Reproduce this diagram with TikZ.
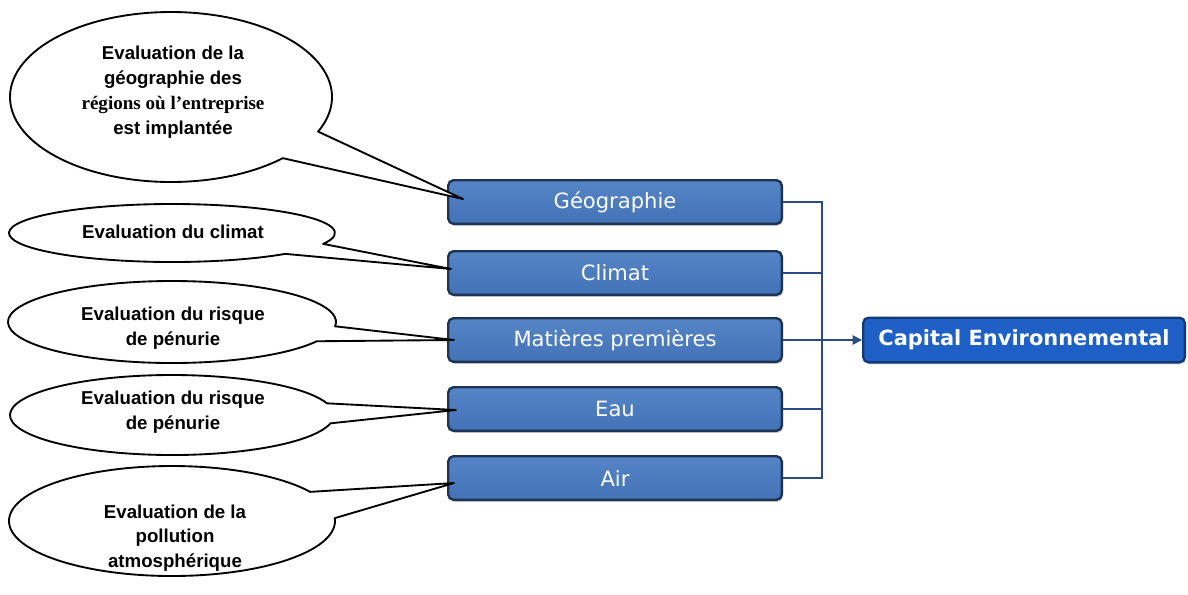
\documentclass[tikz,border=0pt]{standalone}
\usepackage{fontspec}
\setmainfont{Liberation Sans}
\newfontfamily\boxfont{DejaVu Sans}
\newfontfamily\serifb{Liberation Serif}
\usetikzlibrary{arrows.meta,shadows}
\definecolor{boxfill}{HTML}{4373B7}
\definecolor{boxtop}{HTML}{5585C6}
\definecolor{boxline}{HTML}{1C3354}
\definecolor{capfill}{HTML}{1E60C6}
\definecolor{capline}{HTML}{133A78}
\definecolor{busline}{HTML}{2B4C82}
\tikzset{
  x=0.75pt, y=-0.75pt,
  catbox/.style={draw=boxline, line width=1.8pt, rounded corners=4pt,
    top color=boxtop, bottom color=boxfill, minimum width=336*0.75pt-1.8pt,
    minimum height=46*0.75pt-1.8pt, text=white, font=\boxfont\fontsize{15.8}{18}\selectfont,
    drop shadow={shadow xshift=1pt, shadow yshift=-1.5pt, opacity=0.35}},
  capbox/.style={draw=capline, line width=1.8pt, rounded corners=4pt,
    fill=capfill, minimum width=324*0.75pt-1.8pt,
    minimum height=47*0.75pt-1.8pt, text=white, font=\boxfont\bfseries\fontsize{15.7}{18}\selectfont,
    drop shadow={shadow xshift=1pt, shadow yshift=-1.5pt, opacity=0.35}},
  callout/.style={draw=black, line width=1.4pt, fill=white, line join=round},
  calltext/.style={align=center, font=\bfseries\fontsize{14}{18.6}\selectfont, text=black},
  bus/.style={draw=busline, line width=1.1pt},
}
\begin{document}
\begin{tikzpicture}
\useasboundingbox (0,0) rectangle (1188,594);
% category boxes
\node[catbox] (geo) at (615,202) {Géographie};
\node[catbox] (cli) at (615,273) {Climat};
\node[catbox] (mat) at (615,340) {Matières premières};
\node[catbox] (eau) at (615,409) {Eau};
\node[catbox] (air) at (615,478) {Air};
\node[capbox] (cap) at (1024,340) {Capital Environnemental};
% bus
\coordinate (bt) at (822,202);
\coordinate (bb) at (822,478);
\coordinate (bm) at (822,340);
\draw[bus] (geo.east) -- (bt) -- (bb) -- (air.east);
\draw[bus] (cli.east) -- (cli.east -| bt);
\draw[bus] (mat.east) -- (bm);
\draw[bus] (eau.east) -- (eau.east -| bt);
\draw[bus, -{Triangle[length=7pt,width=7pt]}] (bm) -- (cap.west);
% callout tips
\coordinate (t1) at (463,199);
\coordinate (t2) at (451,269);
\coordinate (t3) at (454,340);
\coordinate (t4) at (456,410);
\coordinate (t5) at (454,483);
% callout centres
\coordinate (e1) at (171,97);
\coordinate (e2) at (172,233);
\coordinate (e3) at (172,322);
\coordinate (e4) at (172,415);
\coordinate (e5) at (172,521);
% callouts: start at lower tail point, arc the long way to upper tail point, then to tip
\path[callout] (e1) ++(46:161 and 85) arc[start angle=46, end angle=384, x radius=161, y radius=85] -- (t1) -- cycle;
\path[callout] (e2) ++(46:163 and 29) arc[start angle=46, end angle=382, x radius=163, y radius=29] -- (t2) -- cycle;
\path[callout] (e3) ++(28:164 and 41) arc[start angle=28, end angle=366, x radius=164, y radius=41] -- (t3) -- cycle;
\path[callout] (e4) ++(12:162 and 40) arc[start angle=12, end angle=343, x radius=162, y radius=40] -- (t4) -- cycle;
\path[callout] (e5) ++(-3:163 and 55) arc[start angle=-3, end angle=328, x radius=163, y radius=55] -- (t5) -- cycle;
% callout texts
\node[calltext] (c1) at (173,92) {Evaluation de la\\géographie des\\{\serifb\fontsize{14.3}{18.2}\selectfont régions où l’entreprise}\\est implantée};
\node[calltext] (c2) at (173,232) {Evaluation du climat};
\node[calltext] (c3) at (173,328) {Evaluation du risque\\de pénurie};
\node[calltext] (c4) at (173,412) {Evaluation du risque\\de pénurie};
\node[calltext] (c5) at (175,538) {Evaluation de la\\pollution\\atmosphérique};
\end{tikzpicture}
\end{document}
